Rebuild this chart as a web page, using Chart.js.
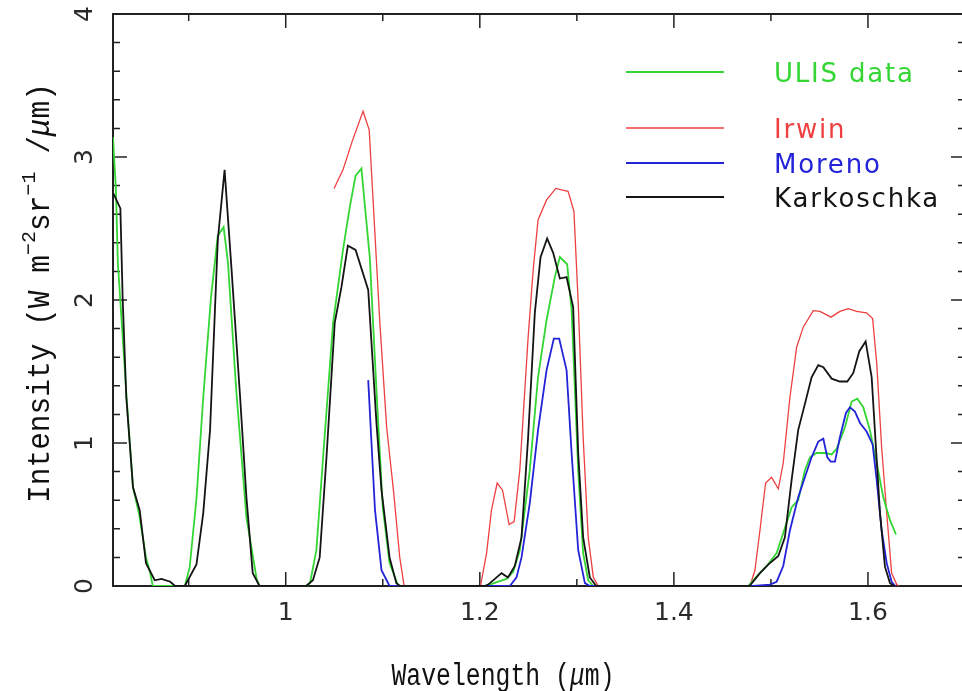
<!DOCTYPE html>
<html>
<head>
<meta charset="utf-8">
<script src="https://cdn.jsdelivr.net/npm/chart.js@4.4.0/dist/chart.umd.min.js"></script>
<style>
  html, body { margin: 0; padding: 0; background: #fff; overflow: hidden; }
  canvas { display: block; }
</style>
</head>
<body>
<canvas id="spectrum" width="966" height="691"></canvas>
<script>
// axis ticks (wavelength in micron, intensity in W m-2 sr-1 / micron)
const xMajorTicks = [1.0, 1.2, 1.4, 1.6];
const xMinorTicks = [0.9, 1.1, 1.3, 1.5, 1.7];
const yMajorTicks = [0, 1, 2, 3, 4];
const yMinorTicks = [0.2, 0.4, 0.6, 0.8, 1.2, 1.4, 1.6, 1.8, 2.2, 2.4, 2.6, 2.8, 3.2, 3.4, 3.6, 3.8];

const seriesNames = ['ULIS data', 'Irwin', 'Moreno', 'Karkoschka'];
const seriesColors = ['#33d633', '#ee4040', '#2323d8', '#141414'];

// [wavelength, intensity]
const ulis = [
  [0.822, 3.14], [0.825, 2.77], [0.827, 2.26], [0.836, 1.32], [0.8426, 0.69], [0.849, 0.5],
  [0.856, 0.2], [0.860, 0.10], [0.863, 0], [0.896, 0], [0.901, 0.13], [0.908, 0.61],
  [0.915, 1.32], [0.923, 2.02], [0.930, 2.45], [0.936, 2.51], [0.9405, 2.26], [0.949, 1.37],
  [0.9595, 0.48], [0.970, 0.05], [0.973, 0], [1.021, 0], [1.025, 0.02], [1.0316, 0.25],
  [1.0385, 0.90], [1.0488, 1.84], [1.059, 2.35], [1.066, 2.65], [1.072, 2.87], [1.078, 2.92],
  [1.081, 2.70], [1.0866, 2.30], [1.0935, 1.37], [1.100, 0.55], [1.107, 0.16], [1.116, 0],
  [1.205, 0], [1.2103, 0.01], [1.219, 0.03], [1.2275, 0.05], [1.2344, 0.10], [1.2412, 0.25],
  [1.2515, 0.81], [1.260, 1.46], [1.2688, 1.86], [1.2773, 2.16], [1.2825, 2.30], [1.29, 2.25],
  [1.2946, 1.93], [1.3014, 0.81], [1.3065, 0.23], [1.3117, 0.04], [1.317, 0], [1.4766, 0],
  [1.4852, 0.065], [1.4956, 0.14], [1.5059, 0.23], [1.5127, 0.37], [1.5213, 0.55], [1.5281, 0.60],
  [1.535, 0.81], [1.5402, 0.90], [1.547, 0.93], [1.5557, 0.93], [1.5626, 0.92], [1.5677, 0.96],
  [1.5763, 1.11], [1.5832, 1.29], [1.589, 1.31], [1.5952, 1.25], [1.602, 1.09], [1.609, 0.86],
  [1.6158, 0.62], [1.6227, 0.46], [1.6289, 0.36]
];

const irwin = [
  [1.0498, 2.78], [1.059, 2.91], [1.069, 3.12], [1.0797, 3.32], [1.086, 3.19], [1.097, 1.84],
  [1.104, 1.11], [1.111, 0.67], [1.1175, 0.20], [1.122, 0], [1.2007, 0], [1.207, 0.23],
  [1.212, 0.53], [1.2179, 0.72], [1.2234, 0.67], [1.2302, 0.43], [1.2354, 0.45], [1.2412, 0.81],
  [1.2498, 1.74], [1.255, 2.21], [1.260, 2.56], [1.2688, 2.70], [1.2784, 2.78], [1.2842, 2.77],
  [1.291, 2.76], [1.297, 2.62], [1.3014, 1.98], [1.3065, 1.04], [1.3117, 0.34], [1.317, 0.06],
  [1.322, 0], [1.4784, 0], [1.4835, 0.11], [1.4887, 0.39], [1.4945, 0.72], [1.5007, 0.76],
  [1.5076, 0.68], [1.5127, 0.86], [1.5196, 1.32], [1.5265, 1.67], [1.5333, 1.81], [1.5436, 1.925],
  [1.5505, 1.92], [1.5619, 1.88], [1.5711, 1.92], [1.5797, 1.94], [1.5883, 1.92], [1.5986, 1.91],
  [1.6048, 1.87], [1.609, 1.56], [1.6141, 0.97], [1.6193, 0.51], [1.6244, 0.09], [1.6296, 0.01],
  [1.632, 0]
];

const moreno = [
  [1.085, 1.44], [1.092, 0.53], [1.0987, 0.11], [1.107, 0], [1.231, 0], [1.2378, 0.06],
  [1.243, 0.2], [1.2515, 0.58], [1.260, 1.09], [1.2688, 1.51], [1.2763, 1.73], [1.2818, 1.73],
  [1.2894, 1.51], [1.2946, 0.93], [1.3014, 0.25], [1.3083, 0.02], [1.3134, 0], [1.4818, 0],
  [1.499, 0.01], [1.5059, 0.03], [1.5127, 0.14], [1.5196, 0.39], [1.5281, 0.62], [1.535, 0.76],
  [1.5419, 0.90], [1.5488, 1.01], [1.554, 1.03], [1.5581, 0.90], [1.5616, 0.87], [1.566, 0.87],
  [1.5711, 1.04], [1.5773, 1.21], [1.5814, 1.25], [1.5866, 1.22], [1.5918, 1.14], [1.5986, 1.08],
  [1.6048, 0.99], [1.609, 0.74], [1.6141, 0.39], [1.6193, 0.16], [1.6244, 0.03], [1.628, 0]
];

const karkoschka = [
  [0.822, 2.75], [0.8296, 2.64], [0.832, 2.0], [0.8357, 1.32], [0.8426, 0.69], [0.8495, 0.53],
  [0.856, 0.16], [0.865, 0.04], [0.872, 0.05], [0.881, 0.03], [0.886, 0], [0.896, 0],
  [0.908, 0.15], [0.915, 0.51], [0.922, 1.09], [0.930, 2.42], [0.937, 2.91], [0.944, 2.23],
  [0.953, 1.32], [0.9595, 0.62], [0.966, 0.09], [0.973, 0], [1.021, 0], [1.028, 0.04],
  [1.035, 0.20], [1.042, 0.90], [1.0505, 1.84], [1.0574, 2.09], [1.064, 2.38], [1.072, 2.35],
  [1.085, 2.07], [1.0935, 1.14], [1.0987, 0.67], [1.107, 0.20], [1.114, 0.02], [1.118, 0],
  [1.205, 0], [1.2086, 0.01], [1.2155, 0.05], [1.2224, 0.09], [1.229, 0.06], [1.2361, 0.14],
  [1.243, 0.34], [1.2498, 1.04], [1.2567, 1.91], [1.2626, 2.30], [1.2694, 2.43], [1.2756, 2.33],
  [1.2825, 2.15], [1.2894, 2.16], [1.2962, 1.95], [1.3014, 0.93], [1.3065, 0.34], [1.3134, 0.06],
  [1.320, 0], [1.478, 0], [1.4887, 0.09], [1.4972, 0.15], [1.5076, 0.21], [1.5144, 0.34],
  [1.5213, 0.74], [1.5281, 1.09], [1.536, 1.30], [1.5419, 1.46], [1.5488, 1.545], [1.554, 1.53],
  [1.5626, 1.45], [1.5711, 1.43], [1.5787, 1.43], [1.5849, 1.49], [1.591, 1.64], [1.5976, 1.71],
  [1.6038, 1.46], [1.6082, 0.97], [1.6124, 0.51], [1.6175, 0.135], [1.6227, 0.02], [1.627, 0]
];

const allSeries = [ulis, irwin, moreno, karkoschka];
const drawOrder = [2, 3, 1, 0]; // chart.js: higher order is drawn underneath
const lineWidths = [1.8, 1.3, 1.8, 1.8];

const toPoints = arr => arr.map(p => ({ x: p[0], y: p[1] }));

// frame with inward ticks on all four sides, like the original plot package
const framePlugin = {
  id: 'frame',
  beforeDatasetsDraw(chart) {
    const { ctx, chartArea: a, scales: { x, y } } = chart;
    ctx.save();
    ctx.strokeStyle = '#222';
    ctx.lineWidth = 1.5;
    const tick = (px, len, vertical) => {
      ctx.beginPath();
      if (vertical) {
        ctx.moveTo(px, a.bottom); ctx.lineTo(px, a.bottom - len);
        ctx.moveTo(px, a.top); ctx.lineTo(px, a.top + len);
      } else {
        ctx.moveTo(a.left, px); ctx.lineTo(a.left + len, px);
        ctx.moveTo(a.right, px); ctx.lineTo(a.right - len, px);
      }
      ctx.stroke();
    };
    xMajorTicks.forEach(v => tick(x.getPixelForValue(v), 14, true));
    xMinorTicks.forEach(v => tick(x.getPixelForValue(v), 7, true));
    yMajorTicks.forEach(v => tick(y.getPixelForValue(v), 14, false));
    yMinorTicks.forEach(v => tick(y.getPixelForValue(v), 7, false));
    ctx.lineWidth = 2;
    ctx.strokeRect(a.left, a.top, a.right - a.left, a.bottom - a.top);
    ctx.restore();
  },
  afterDraw(chart) {
    const { ctx, scales: { x, y } } = chart;
    ctx.save();
    ctx.fillStyle = '#2a2a2a';
    ctx.font = '25px "DejaVu Sans"';
    ctx.textAlign = 'center';
    ctx.textBaseline = 'middle';
    xMajorTicks.forEach(v => {
      ctx.fillText(String(+v.toFixed(1)), x.getPixelForValue(v), 613);
    });
    yMajorTicks.forEach(v => {
      ctx.save();
      ctx.translate(85, y.getPixelForValue(v));
      ctx.rotate(-Math.PI / 2);
      ctx.fillText(String(v), 0, 0);
      ctx.restore();
    });

    // axis titles
    ctx.fillStyle = '#111';
    ctx.textAlign = 'left';
    ctx.textBaseline = 'alphabetic';
    ctx.save();
    ctx.translate(503, 685);
    drawRich(ctx, [{ t: 'Wavelength (' }, { t: 'μ', it: true }, { t: 'm)' }], 31, 223);
    ctx.restore();
    ctx.save();
    ctx.translate(49, 293);
    ctx.rotate(-Math.PI / 2);
    drawRich(ctx, [
      { t: 'Intensity (W m' }, { t: '−2', sup: true }, { t: 'sr' }, { t: '−1', sup: true },
      { t: ' /' }, { t: 'μ', it: true }, { t: 'm)' }
    ], 31, 420);
    ctx.restore();

    // legend
    const rows = [72, 128, 163, 197];
    ctx.font = '26px "DejaVu Sans"';
    ctx.letterSpacing = '1.8px';
    seriesNames.forEach((name, i) => {
      ctx.strokeStyle = seriesColors[i];
      ctx.lineWidth = i === 1 ? 1.3 : 1.8;
      ctx.beginPath();
      ctx.moveTo(626, rows[i]);
      ctx.lineTo(724, rows[i]);
      ctx.stroke();
      ctx.fillStyle = seriesColors[i];
      ctx.fillText(name, 774, rows[i] + 10);
    });
    ctx.restore();
  }
};

function fontFor(p, size) {
  const s = p.sup ? Math.round(size * 0.68) : size;
  return (p.it ? 'italic ' : '') + s + 'px "Liberation Mono"';
}

// draws text parts centred on the current origin, squeezed to a target width
function drawRich(ctx, parts, size, targetW) {
  let w = 0;
  parts.forEach(p => {
    ctx.font = fontFor(p, size);
    p.w = ctx.measureText(p.t).width;
    w += p.w;
  });
  ctx.scale(targetW / w, 1);
  let cx = -w / 2;
  parts.forEach(p => {
    ctx.font = fontFor(p, size);
    ctx.fillText(p.t, cx, p.sup ? -size * 0.45 : 0);
    cx += p.w;
  });
}

new Chart(document.getElementById('spectrum'), {
  type: 'line',
  data: {
    datasets: allSeries.map((s, i) => ({
      label: seriesNames[i],
      data: toPoints(s),
      borderColor: seriesColors[i],
      borderWidth: lineWidths[i],
      pointRadius: 0,
      tension: 0,
      fill: false,
      order: drawOrder[i]
    }))
  },
  options: {
    responsive: false,
    animation: false,
    layout: { padding: { left: 113, right: 1, top: 14, bottom: 105 } },
    plugins: { legend: { display: false }, tooltip: { enabled: false } },
    scales: {
      x: { type: 'linear', min: 0.822, max: 1.7, display: false },
      y: { type: 'linear', min: 0, max: 4, display: false }
    }
  },
  plugins: [framePlugin]
});
</script>
</body>
</html>
